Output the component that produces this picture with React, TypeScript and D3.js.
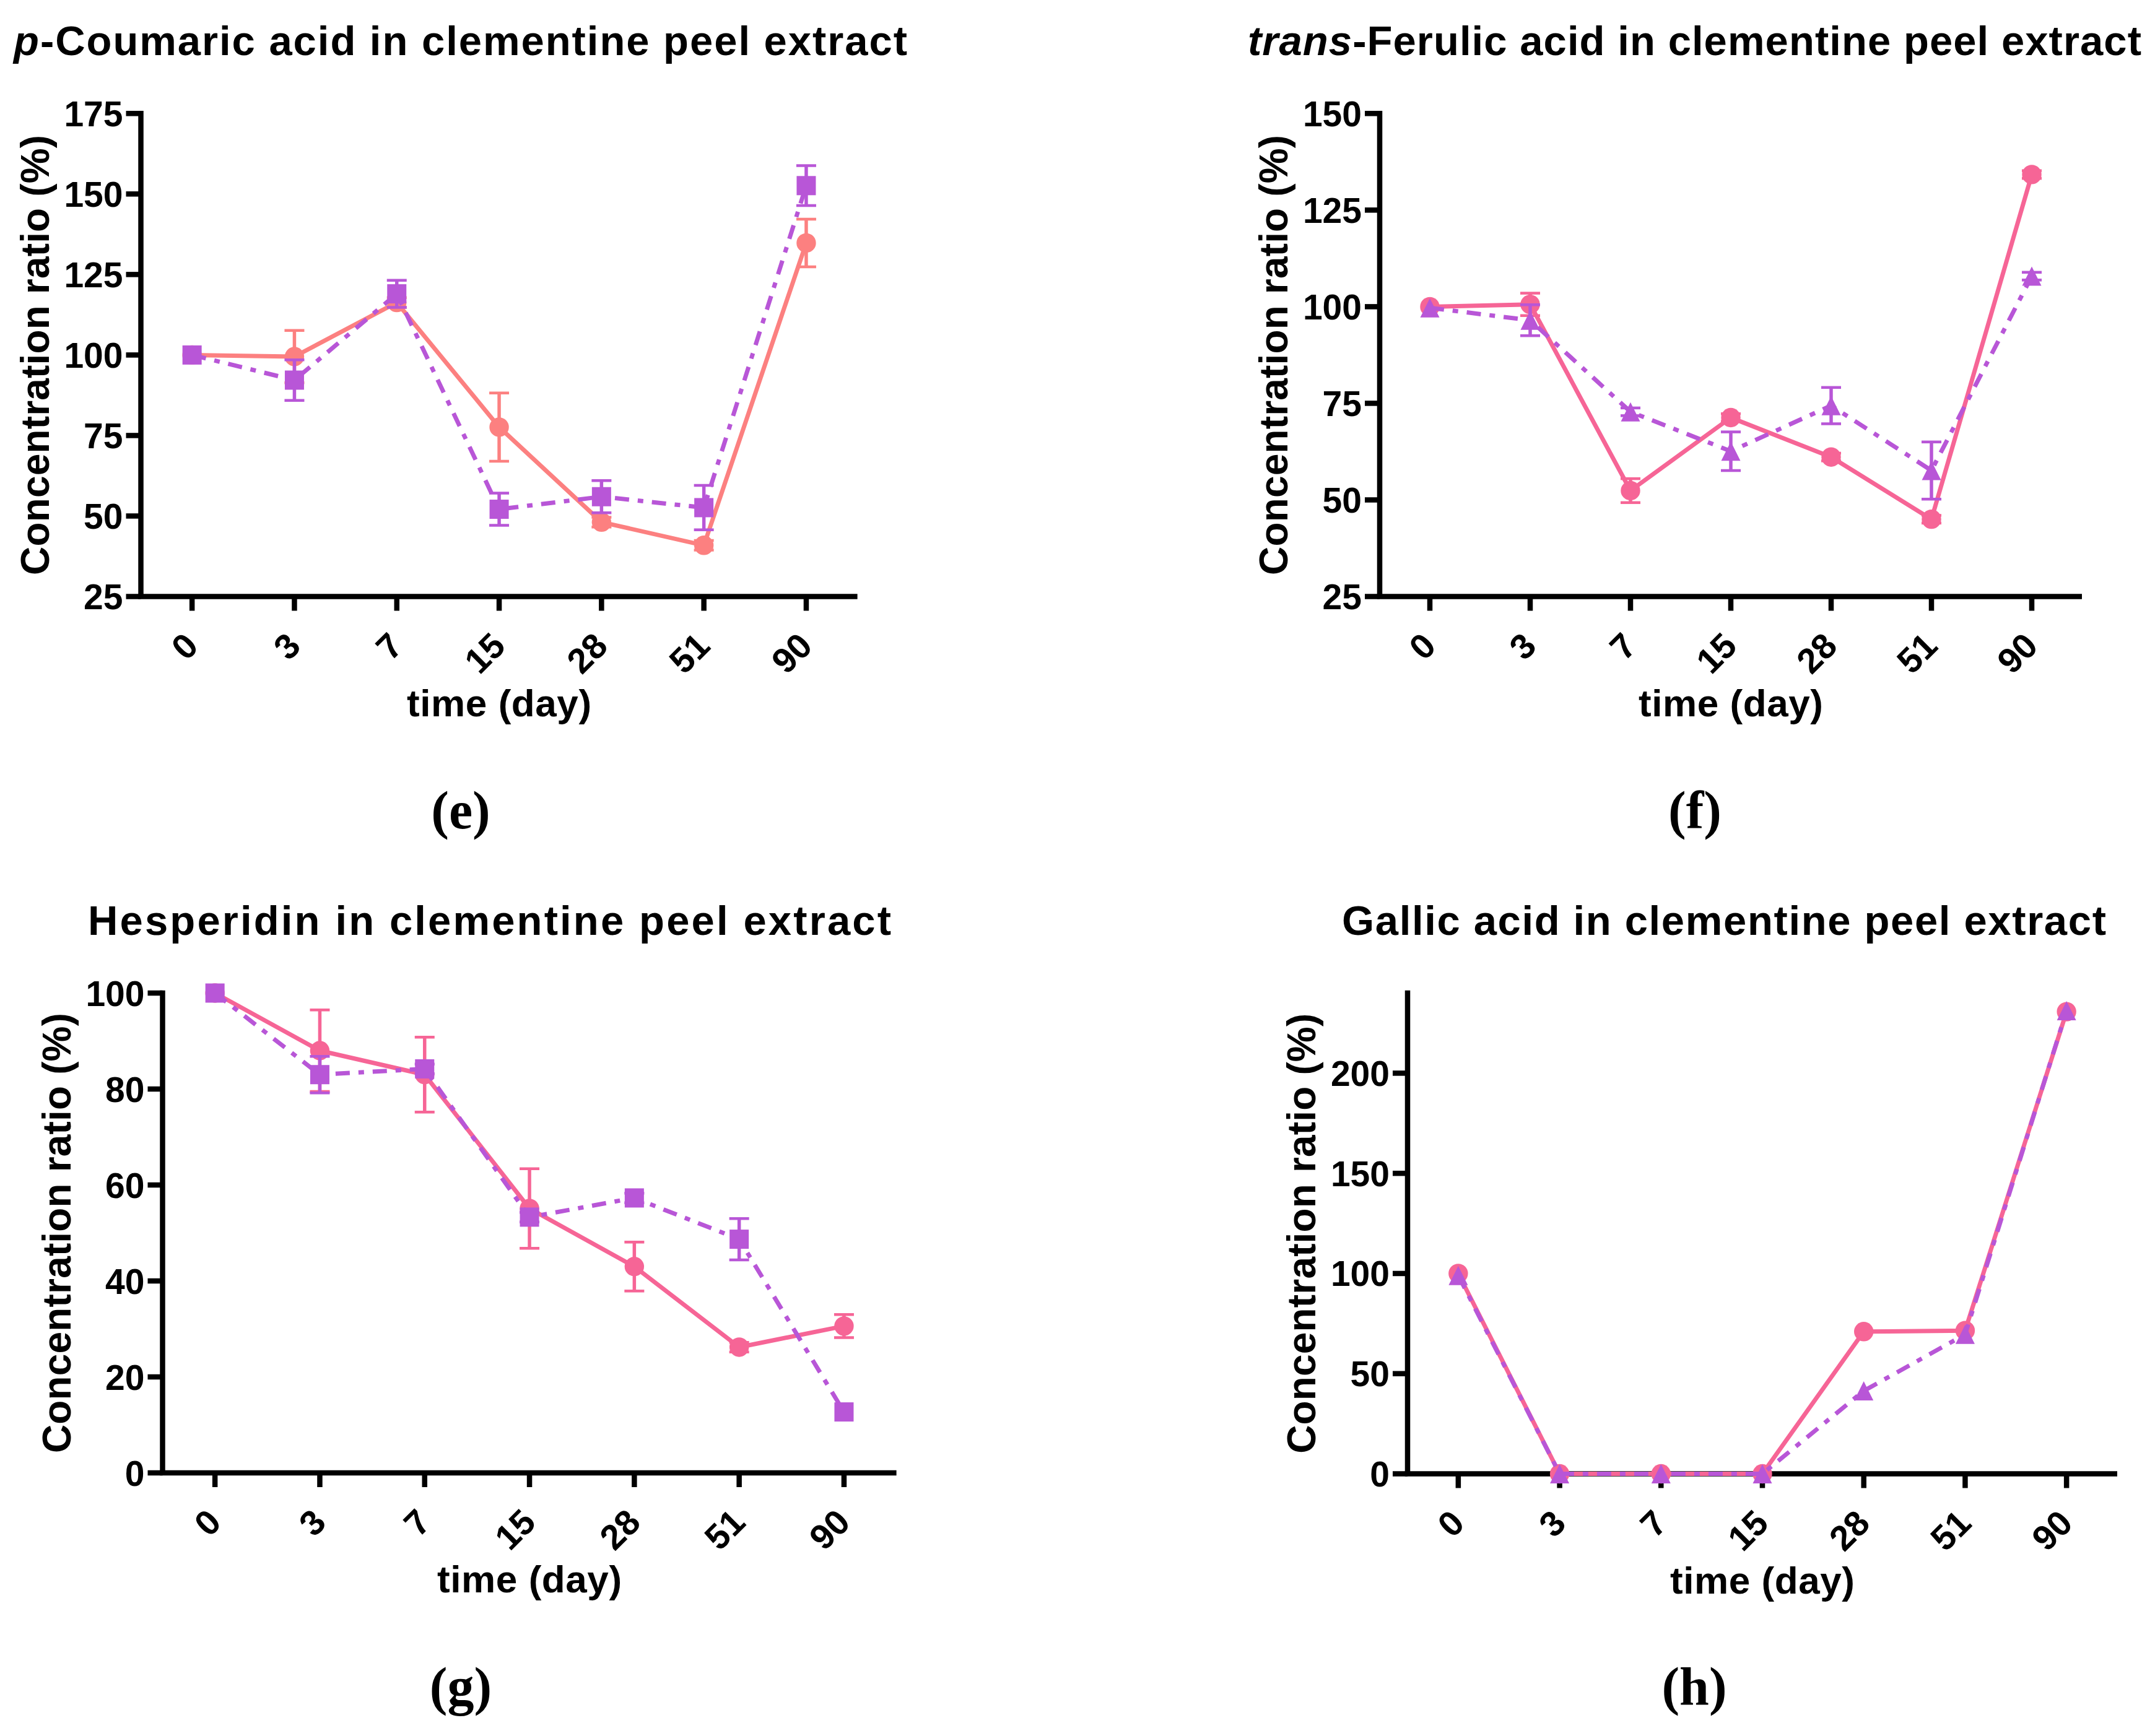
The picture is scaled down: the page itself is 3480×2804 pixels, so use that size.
import * as d3 from "d3";

const days = ["0", "3", "7", "15", "28", "51", "90"];

// (e) p-Coumaric acid
const coumaricCircle = [100, 99.5, 116.3, 77.6, 48.1, 40.9, 134.8];
const coumaricCircleErr = [0, 8.1, 1.5, 10.6, 1.5, 1.5, 7.4];
const coumaricSquare = [100, 92.2, 119.0, 52.1, 56.0, 52.6, 152.6];
const coumaricSquareErr = [0, 6.3, 4.2, 5.0, 5.0, 6.9, 6.2];
const coumaricTicks = [25, 50, 75, 100, 125, 150, 175];

// (f) trans-Ferulic acid
const ferulicCircle = [100, 100.6, 52.4, 71.3, 61.1, 45.0, 134.2];
const ferulicCircleErr = [0, 2.9, 3.1, 1, 1, 1, 1];
const ferulicTriangle = [99.7, 96.5, 72.8, 62.6, 74.4, 57.6, 107.9];
const ferulicTriangleErr = [0, 4, 1, 5, 4.7, 7.4, 1];
const ferulicTicks = [25, 50, 75, 100, 125, 150];

// (g) Hesperidin
const hesperidinCircle = [100, 88.0, 83.0, 55.1, 43.0, 26.2, 30.6];
const hesperidinCircleErr = [0, 8.5, 7.8, 8.3, 5.1, 1, 2.4];
const hesperidinSquare = [100, 83.0, 84.2, 53.3, 57.3, 48.7, 12.7];
const hesperidinSquareErr = [0, 3.8, 1, 1, 1, 4.3, 0];
const hesperidinTicks = [0, 20, 40, 60, 80, 100];

// (h) Gallic acid
const gallicCircle = [100, 0, 0, 0, 71.0, 71.5, 230.7];
const gallicTriangle = [99, 0, 0, 0, 41.4, 69.6, 231.2];
const gallicTicks = [0, 50, 100, 150, 200];

const salmon = "#FC8080";
const pink = "#F66596";
const purple = "#B856D7";

const sans = "'Liberation Sans', Arial, Helvetica, sans-serif";
const serif = "'Liberation Serif', 'Times New Roman', serif";

const panels = [
  {
    key: "e",
    title: [{ t: "p", i: true }, { t: "-Coumaric acid in clementine peel extract" }],
    titleX: 22, titleY: 89, titleLen: 1443,
    rect: { l: 227.5, r: 1384.6, t: 183.3, b: 963.5 },
    domain: [25, 175], ticks: coumaricTicks,
    solid: coumaricCircle, solidErr: coumaricCircleErr, solidColor: salmon,
    dash: coumaricSquare, dashErr: coumaricSquareErr, dashShape: "square",
    label: "(e)", labelX: 744, labelY: 1338,
  },
  {
    key: "f",
    title: [{ t: "trans", i: true }, { t: "-Ferulic acid in clementine peel extract" }],
    titleX: 2015, titleY: 89, titleLen: 1443,
    rect: { l: 2228, r: 3362, t: 183.3, b: 963.5 },
    domain: [25, 150], ticks: ferulicTicks,
    solid: ferulicCircle, solidErr: ferulicCircleErr, solidColor: pink,
    dash: ferulicTriangle, dashErr: ferulicTriangleErr, dashShape: "triangle",
    label: "(f)", labelX: 2737, labelY: 1338,
  },
  {
    key: "g",
    title: [{ t: "Hesperidin in clementine peel extract" }],
    titleX: 142, titleY: 1510, titleLen: 1297,
    rect: { l: 262.5, r: 1447.6, t: 1604, b: 2379 },
    domain: [0, 100], ticks: hesperidinTicks,
    solid: hesperidinCircle, solidErr: hesperidinCircleErr, solidColor: pink,
    dash: hesperidinSquare, dashErr: hesperidinSquareErr, dashShape: "square",
    label: "(g)", labelX: 744, labelY: 2753,
  },
  {
    key: "h",
    title: [{ t: "Gallic acid in clementine peel extract" }],
    titleX: 2167, titleY: 1510, titleLen: 1234,
    rect: { l: 2273, r: 3419, t: 1604, b: 2380.5 },
    domain: [0, 240], ticks: gallicTicks,
    solid: gallicCircle, solidErr: null, solidColor: pink,
    dash: gallicTriangle, dashErr: null, dashShape: "triangle",
    label: "(h)", labelX: 2736, labelY: 2753,
  },
];

const AXIS_W = 8.5;

function Marker({ shape, x, y, color }: any) {
  const h = 15.5;
  if (shape === "square") return <rect x={x - h} y={y - h} width={h * 2} height={h * 2} fill={color} />;
  if (shape === "triangle")
    return <polygon points={`${x},${y - h} ${x - h},${y + h} ${x + h},${y + h}`} fill={color} />;
  return <circle cx={x} cy={y} r={15.7} fill={color} />;
}

function Series({ values, errs, color, shape, dashed, x, y }: any) {
  const line = d3
    .line<number>()
    .x((_, i) => x(days[i]))
    .y((d) => y(d));
  return (
    <g>
      <path
        d={line(values) || ""}
        fill="none"
        stroke={color}
        strokeWidth={7}
        strokeDasharray={dashed ? "23,14,9,14" : undefined}
        strokeLinejoin="round"
      />
      {errs &&
        values.map((v: number, i: number) => {
          const e = errs[i];
          if (!e) return null;
          const cx = x(days[i]);
          const y1 = y(v + e);
          const y2 = y(v - e);
          return (
            <g key={i} stroke={color}>
              <line x1={cx} x2={cx} y1={y1} y2={y2} strokeWidth={5.5} />
              <line x1={cx - 16} x2={cx + 16} y1={y1} y2={y1} strokeWidth={4.5} />
              <line x1={cx - 16} x2={cx + 16} y1={y2} y2={y2} strokeWidth={4.5} />
            </g>
          );
        })}
      {values.map((v: number, i: number) => (
        <Marker key={i} shape={shape} x={x(days[i])} y={y(v)} color={color} />
      ))}
    </g>
  );
}

function Panel({ p }: any) {
  const { l, r, t, b } = p.rect;
  const x = d3.scalePoint<string>().domain(days).range([l, r]).padding(0.5);
  const y = d3.scaleLinear().domain(p.domain).range([b, t]);
  const cy = (t + b) / 2;
  const cx = (l + r) / 2;
  return (
    <g>
      <text
        x={p.titleX}
        y={p.titleY}
        fontFamily={sans}
        fontWeight="bold"
        fontSize={67}
        textLength={p.titleLen}
        lengthAdjust="spacing"
      >
        {p.title.map((s: any, i: number) => (
          <tspan key={i} fontStyle={s.i ? "italic" : "normal"}>
            {s.t}
          </tspan>
        ))}
      </text>

      {/* y axis */}
      <line x1={l} x2={l} y1={t - AXIS_W / 2} y2={b} stroke="#000" strokeWidth={AXIS_W} />
      {p.ticks.map((v: number) => (
        <g key={v}>
          <line x1={l - 24} x2={l} y1={y(v)} y2={y(v)} stroke="#000" strokeWidth={AXIS_W} />
          <text
            x={l - 29}
            y={y(v)}
            dy="0.36em"
            textAnchor="end"
            fontFamily={sans}
            fontWeight="bold"
            fontSize={57}
          >
            {v}
          </text>
        </g>
      ))}

      {/* x axis */}
      <line x1={l - AXIS_W / 2} x2={r} y1={b} y2={b} stroke="#000" strokeWidth={AXIS_W} />
      {days.map((d) => (
        <g key={d}>
          <line x1={x(d)} x2={x(d)} y1={b} y2={b + 23} stroke="#000" strokeWidth={AXIS_W} />
          <text
            transform={`translate(${(x(d) as number) + 13},${b + 83}) rotate(-45)`}
            textAnchor="end"
            fontFamily={sans}
            fontWeight="bold"
            fontSize={57}
          >
            {d}
          </text>
        </g>
      ))}

      <text
        transform={`translate(${l - 149},${cy}) rotate(-90)`}
        textAnchor="middle"
        fontFamily={sans}
        fontWeight="bold"
        fontSize={64}
        textLength={711}
        lengthAdjust="spacing"
      >
        Concentration ratio (%)
      </text>
      <text
        x={cx}
        y={b + 193}
        textAnchor="middle"
        fontFamily={sans}
        fontWeight="bold"
        fontSize={62}
        textLength={298}
        lengthAdjust="spacing"
      >
        time (day)
      </text>

      <Series values={p.solid} errs={p.solidErr} color={p.solidColor} shape="circle" dashed={false} x={x} y={y} />
      <Series values={p.dash} errs={p.dashErr} color={purple} shape={p.dashShape} dashed={true} x={x} y={y} />

      <text
        x={p.labelX}
        y={p.labelY}
        textAnchor="middle"
        fontFamily={serif}
        fontWeight="bold"
        fontSize={86}
      >
        {p.label}
      </text>
    </g>
  );
}

export default function App() {
  return (
    <svg
      width={3480}
      height={2804}
      viewBox="0 0 3480 2804"
      style={{ position: "absolute", left: 0, top: 0, background: "#fff" }}
    >
      <rect width={3480} height={2804} fill="#fff" />
      {panels.map((p) => (
        <Panel key={p.key} p={p} />
      ))}
    </svg>
  );
}
